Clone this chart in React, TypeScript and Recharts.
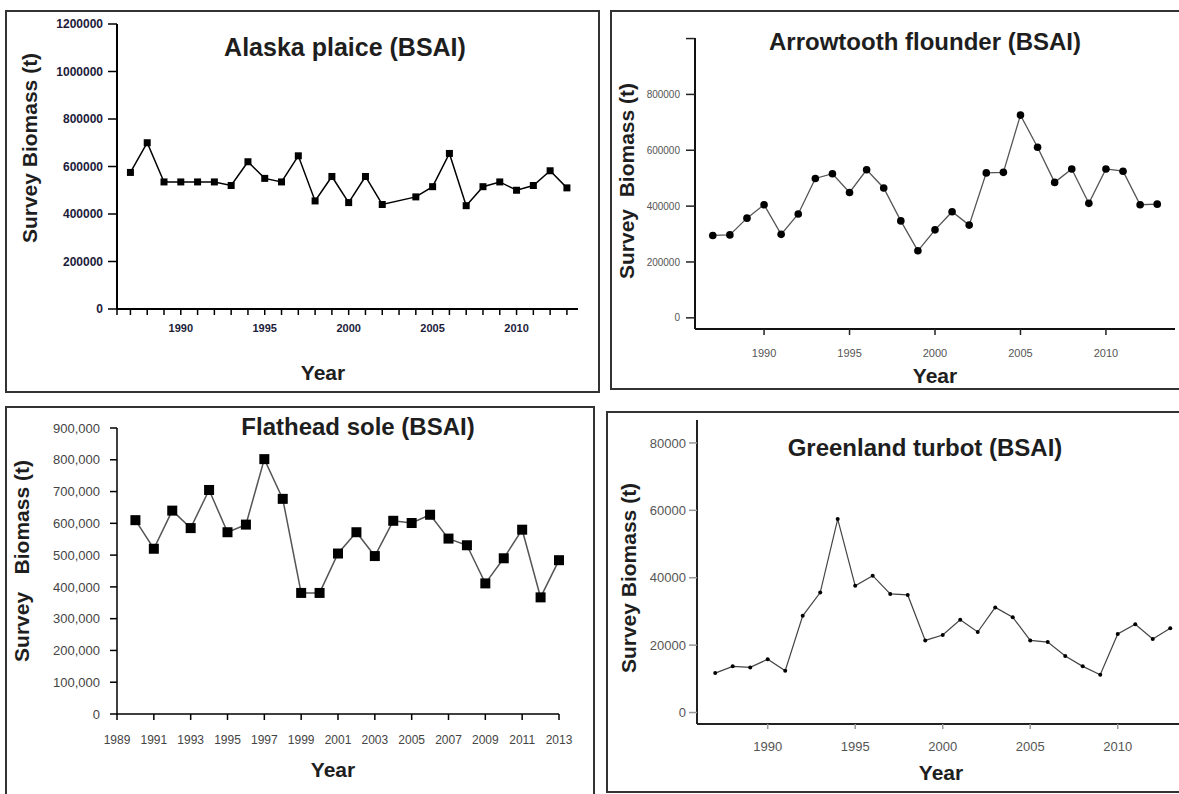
import React from "react";
import { LineChart, Line, XAxis, YAxis } from "recharts";

// Alaska plaice (BSAI)
const plaiceYears = [1987, 1988, 1989, 1990, 1991, 1992, 1993, 1994, 1995, 1996, 1997, 1998, 1999, 2000, 2001, 2002, 2004, 2005, 2006, 2007, 2008, 2009, 2010, 2011, 2012, 2013];
const plaiceBiomass = [575000, 700000, 535000, 535000, 535000, 535000, 520000, 620000, 550000, 535000, 645000, 455000, 558000, 448000, 558000, 440000, 472000, 515000, 655000, 435000, 515000, 535000, 500000, 520000, 582000, 510000];

// Arrowtooth flounder (BSAI)
const arrowYears = [1987, 1988, 1989, 1990, 1991, 1992, 1993, 1994, 1995, 1996, 1997, 1998, 1999, 2000, 2001, 2002, 2003, 2004, 2005, 2006, 2007, 2008, 2009, 2010, 2011, 2012, 2013];
const arrowBiomass = [295000, 297000, 357000, 405000, 299000, 372000, 499000, 516000, 449000, 530000, 465000, 347000, 240000, 315000, 380000, 332000, 519000, 521000, 726000, 611000, 485000, 533000, 410000, 533000, 525000, 405000, 407000];

// Flathead sole (BSAI)
const soleYears = [1990, 1991, 1992, 1993, 1994, 1995, 1996, 1997, 1998, 1999, 2000, 2001, 2002, 2003, 2004, 2005, 2006, 2007, 2008, 2009, 2010, 2011, 2012, 2013];
const soleBiomass = [610000, 520000, 640000, 585000, 705000, 572000, 596000, 802000, 677000, 381000, 381000, 505000, 572000, 497000, 608000, 601000, 627000, 552000, 531000, 411000, 490000, 580000, 367000, 484000];

// Greenland turbot (BSAI)
const turbotYears = [1987, 1988, 1989, 1990, 1991, 1992, 1993, 1994, 1995, 1996, 1997, 1998, 1999, 2000, 2001, 2002, 2003, 2004, 2005, 2006, 2007, 2008, 2009, 2010, 2011, 2012, 2013];
const turbotBiomass = [11700, 13700, 13400, 15800, 12400, 28700, 35600, 57400, 37600, 40600, 35200, 34900, 21400, 23000, 27500, 23900, 31200, 28300, 21400, 20900, 16800, 13700, 11200, 23300, 26200, 21800, 25000];

// tick values
const plaiceYTicks = [0, 200000, 400000, 600000, 800000, 1000000, 1200000];
const plaiceXTicks = [1986.2, 1987, 1988, 1989, 1990, 1991, 1992, 1993, 1994, 1995, 1996, 1997, 1998, 1999, 2000, 2001, 2002, 2003, 2004, 2005, 2006, 2007, 2008, 2009, 2010, 2011, 2012, 2013];
const arrowYTicks = [0, 200000, 400000, 600000, 800000, 1000000];
const fiveYearTicks = [1990, 1995, 2000, 2005, 2010];
const soleYTicks = [0, 100000, 200000, 300000, 400000, 500000, 600000, 700000, 800000, 900000];
const soleXTicks = [1989, 1991, 1993, 1995, 1997, 1999, 2001, 2003, 2005, 2007, 2009, 2011, 2013];
const turbotYTicks = [0, 20000, 40000, 60000, 80000];

const toRows = (years: number[], values: number[]) =>
  years.map((year, i) => ({ year, biomass: values[i] }));

const W = 1179;
const H = 794;
const FONT = "'Liberation Sans', Arial, sans-serif";

const squareDot = (size: number) => (p: any) => {
  if (p.cx == null || p.cy == null) return <g key={`e${p.index}`} />;
  return (
    <rect key={`d${p.index}`} x={p.cx - size / 2} y={p.cy - size / 2} width={size} height={size} fill="#000" />
  );
};

const circleDot = (r: number) => (p: any) => {
  if (p.cx == null || p.cy == null) return <g key={`e${p.index}`} />;
  return <circle key={`d${p.index}`} cx={p.cx} cy={p.cy} r={r} fill="#000" />;
};

type PanelProps = {
  data: { year: number; biomass: number }[];
  plot: { left: number; top: number; right: number; bottom: number };
  xDomain: [number, number];
  yDomain: [number, number];
  xTicks: number[];
  yTicks: number[];
  xFormat: (v: number) => string;
  yFormat: (v: number) => string;
  xTick: any;
  yTick: any;
  xTickSize: number;
  xTickMargin: number;
  yTickSize: number;
  yTickMargin: number;
  axisStroke: string;
  axisWidth: number;
  tickStroke: string;
  lineStroke: string;
  lineWidth: number;
  dot: any;
};

function Panel(p: PanelProps) {
  const yW = 90;
  const xH = 40;
  const margin = {
    top: p.plot.top,
    left: p.plot.left - yW,
    right: W - p.plot.right,
    bottom: H - p.plot.bottom - xH,
  };
  return (
    <div style={{ position: "absolute", left: 0, top: 0 }}>
      <LineChart width={W} height={H} data={p.data} margin={margin}>
        <XAxis
          dataKey="year"
          type="number"
          domain={p.xDomain}
          ticks={p.xTicks}
          interval={0}
          height={xH}
          tickFormatter={p.xFormat}
          tick={p.xTick}
          tickSize={p.xTickSize}
          tickMargin={p.xTickMargin}
          axisLine={{ stroke: p.axisStroke, strokeWidth: p.axisWidth }}
          tickLine={{ stroke: p.tickStroke, strokeWidth: 1.5 }}
        />
        <YAxis
          type="number"
          domain={p.yDomain}
          ticks={p.yTicks}
          interval={0}
          width={yW}
          tickFormatter={p.yFormat}
          tick={p.yTick}
          tickSize={p.yTickSize}
          tickMargin={p.yTickMargin}
          axisLine={{ stroke: p.axisStroke, strokeWidth: p.axisWidth }}
          tickLine={{ stroke: p.tickStroke, strokeWidth: 1.5 }}
        />
        <Line
          type="linear"
          dataKey="biomass"
          stroke={p.lineStroke}
          strokeWidth={p.lineWidth}
          dot={p.dot}
          activeDot={false}
          isAnimationActive={false}
        />
      </LineChart>
    </div>
  );
}

const Box = ({ left, top, width, height }: { left: number; top: number; width: number; height: number }) => (
  <div
    style={{
      position: "absolute",
      left,
      top,
      width,
      height,
      boxSizing: "border-box",
      border: "2px solid #333",
    }}
  />
);

const Label = ({ x, y, size, text, rotate, color = "#1e1e1e", bold = true }: any) => (
  <div
    style={{
      position: "absolute",
      left: x,
      top: y,
      transform: `translate(-50%, -50%)${rotate ? " rotate(-90deg)" : ""}`,
      fontFamily: FONT,
      fontSize: size,
      fontWeight: bold ? "bold" : "normal",
      color,
      whiteSpace: "pre",
      lineHeight: 1,
    }}
  >
    {text}
  </div>
);

export default function App() {
  const plain = (v: number) => String(v);
  return (
    <div
      style={{
        position: "absolute",
        left: 0,
        top: 0,
        width: W,
        height: H,
        overflow: "hidden",
        background: "#fff",
      }}
    >
      <Box left={5} top={10} width={595} height={383} />
      <Box left={610} top={10} width={580} height={380} />
      <Box left={5} top={406} width={590} height={400} />
      <Box left={606} top={411} width={590} height={382} />

      {/* Alaska plaice */}
      <Panel
        data={toRows(plaiceYears, plaiceBiomass)}
        plot={{ left: 117, top: 24, right: 578, bottom: 309 }}
        xDomain={[1986.2, 2013.66]}
        yDomain={[0, 1200000]}
        xTicks={plaiceXTicks}
        yTicks={plaiceYTicks}
        xFormat={(v) => (v % 5 === 0 ? String(v) : "")}
        yFormat={plain}
        xTick={{ fontSize: 11, fontWeight: "bold", fill: "#1c1c3a", fontFamily: FONT }}
        yTick={{ fontSize: 12, fontWeight: "bold", fill: "#1c1c3a", fontFamily: FONT }}
        xTickSize={6}
        xTickMargin={9}
        yTickSize={9}
        yTickMargin={5}
        axisStroke="#000"
        axisWidth={2}
        tickStroke="#000"
        lineStroke="#000"
        lineWidth={1.5}
        dot={squareDot(7)}
      />
      <Label x={345} y={47} size={25} text="Alaska plaice (BSAI)" />
      <Label x={29} y={148} size={21} text="Survey Biomass (t)" rotate />
      <Label x={323} y={372} size={21} text="Year" />

      {/* Arrowtooth flounder */}
      <Panel
        data={toRows(arrowYears, arrowBiomass)}
        plot={{ left: 695, top: 38, right: 1175, bottom: 329 }}
        xDomain={[1985.96, 2014.04]}
        yDomain={[-40000, 1002000]}
        xTicks={fiveYearTicks}
        yTicks={arrowYTicks}
        xFormat={plain}
        yFormat={(v) => (v === 1000000 ? "" : String(v))}
        xTick={{ fontSize: 11, fill: "#555", fontFamily: FONT }}
        yTick={{ fontSize: 10, fill: "#555", fontFamily: FONT }}
        xTickSize={6}
        xTickMargin={14}
        yTickSize={9}
        yTickMargin={6}
        axisStroke="#111"
        axisWidth={2}
        tickStroke="#222"
        lineStroke="#555"
        lineWidth={1.3}
        dot={circleDot(3.8)}
      />
      <Label x={925} y={42} size={24} text="Arrowtooth flounder (BSAI)" />
      <Label x={626} y={181} size={21} text="Survey  Biomass (t)" rotate />
      <Label x={935} y={375} size={21} text="Year" />

      {/* Flathead sole */}
      <Panel
        data={toRows(soleYears, soleBiomass)}
        plot={{ left: 117, top: 428, right: 559, bottom: 714 }}
        xDomain={[1989, 2013]}
        yDomain={[0, 900000]}
        xTicks={soleXTicks}
        yTicks={soleYTicks}
        xFormat={plain}
        yFormat={(v) => v.toLocaleString("en-US")}
        xTick={{ fontSize: 12, fill: "#444", fontFamily: FONT }}
        yTick={{ fontSize: 13, fill: "#444", fontFamily: FONT }}
        xTickSize={6}
        xTickMargin={15}
        yTickSize={7}
        yTickMargin={10}
        axisStroke="#000"
        axisWidth={1.5}
        tickStroke="#000"
        lineStroke="#555"
        lineWidth={1.5}
        dot={squareDot(10)}
      />
      <Label x={358} y={427} size={24} text="Flathead sole (BSAI)" />
      <Label x={21} y={561} size={21} text="Survey   Biomass (t)" rotate />
      <Label x={333} y={769} size={21} text="Year" />

      {/* Greenland turbot */}
      <Panel
        data={toRows(turbotYears, turbotBiomass)}
        plot={{ left: 697, top: 420, right: 1179, bottom: 724 }}
        xDomain={[1985.96, 2013.5]}
        yDomain={[-3400, 86800]}
        xTicks={fiveYearTicks}
        yTicks={turbotYTicks}
        xFormat={plain}
        yFormat={plain}
        xTick={{ fontSize: 13, fill: "#555", fontFamily: FONT }}
        yTick={{ fontSize: 13, fill: "#555", fontFamily: FONT }}
        xTickSize={5}
        xTickMargin={13}
        yTickSize={8}
        yTickMargin={3}
        axisStroke="#222"
        axisWidth={2}
        tickStroke="#999"
        lineStroke="#444"
        lineWidth={1.2}
        dot={circleDot(2)}
      />
      <Label x={925} y={448} size={24} text="Greenland turbot (BSAI)" />
      <Label x={628} y={578} size={21} text="Survey Biomass (t)" rotate />
      <Label x={941} y={772} size={21} text="Year" />
    </div>
  );
}
